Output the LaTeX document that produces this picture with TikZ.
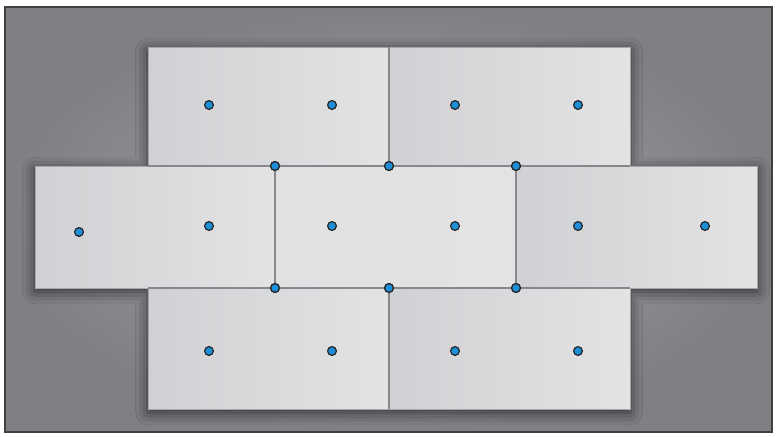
\documentclass[tikz,border=0pt]{standalone}
\usepackage{xcolor}
\usepackage{tikz}
\usetikzlibrary{shadows.blur}

\definecolor{bgdark}{HTML}{7E8084}
\definecolor{bglight}{HTML}{A2A4A8}
\definecolor{panelA}{HTML}{D0D1D4}
\definecolor{panelB}{HTML}{E3E3E4}
\definecolor{seam}{HTML}{86888B}
\definecolor{pinblue}{HTML}{1C8FD8}

\begin{document}
\begin{tikzpicture}[
    % Define common styles
        x=0.02cm, y=-0.02cm,
        panel/.style={left color=panelA, right color=panelB},
        midpanel/.style={left color=panelB!90!panelA, right color=panelB},
        seamline/.style={draw=seam, line width=0.9pt},
        pin/.style={circle, draw=black!85, fill=pinblue, line width=0.7pt, inner sep=0pt, minimum size=5pt}
    ]

        \useasboundingbox (0,0) rectangle (777,436);

        % Background frame
        \fill[white] (0,0) rectangle (777,436);
        \shade[inner color=bglight, outer color=bgdark] (5,7) rectangle (772,432);
        \draw[black!75, line width=0.6pt] (5,7) rectangle (772,432);

        % Shadow of the whole layout
        \fill[panelA, blur shadow={shadow xshift=0pt, shadow yshift=-2pt, shadow blur radius=7pt, shadow opacity=65}]
            (148,47) -- (630,47) -- (630,166) -- (757,166) -- (757,288) -- (630,288)
            -- (630,409) -- (148,409) -- (148,288) -- (35,288) -- (35,166) -- (148,166) -- cycle;

        % Top row
        \shade[panel] (148,47) rectangle (389,166);
        \shade[panel] (389,47) rectangle (630,166);

        % Middle row
        \shade[panel] (35,166) rectangle (275,288);
        \shade[midpanel] (275,166) rectangle (516,288);
        \shade[panel] (516,166) rectangle (757,288);

        % Bottom row
        \shade[panel] (148,288) rectangle (389,409);
        \shade[panel] (389,288) rectangle (630,409);

        % Outer edge
        \draw[panelA!80!black, line width=0.4pt]
            (148,47) -- (630,47) -- (630,166) -- (757,166) -- (757,288) -- (630,288)
            -- (630,409) -- (148,409) -- (148,288) -- (35,288) -- (35,166) -- (148,166) -- cycle;

        % Panel points
        \node[pin] (t1) at (209,105) {};
        \node[pin] (t2) at (332,105) {};
        \node[pin] (t3) at (455,105) {};
        \node[pin] (t4) at (578,105) {};

        \node[pin] (m1) at (79,232) {};
        \node[pin] (m2) at (209,226) {};
        \node[pin] (m3) at (332,226) {};
        \node[pin] (m4) at (455,226) {};
        \node[pin] (m5) at (578,226) {};
        \node[pin] (m6) at (705,226) {};

        \node[pin] (b1) at (209,351) {};
        \node[pin] (b2) at (332,351) {};
        \node[pin] (b3) at (455,351) {};
        \node[pin] (b4) at (578,351) {};

        % Junction points
        \node[pin] (j1) at (275,166) {};
        \node[pin] (j2) at (389,166) {};
        \node[pin] (j3) at (516,166) {};
        \node[pin] (j4) at (275,288) {};
        \node[pin] (j5) at (389,288) {};
        \node[pin] (j6) at (516,288) {};

        % Seams between panels
        \coordinate (tl) at (148,166);
        \coordinate (tr) at (630,166);
        \coordinate (bl) at (148,288);
        \coordinate (br) at (630,288);
        \coordinate (top) at (389,47);
        \coordinate (bot) at (389,409);
        \draw[seamline] (tl) -- (j1) -- (j2) -- (j3) -- (tr);
        \draw[seamline] (bl) -- (j4) -- (j5) -- (j6) -- (br);
        \draw[seamline] (top) -- (j2);
        \draw[seamline] (j5) -- (bot);
        \draw[seamline] (j1) -- (j4);
        \draw[seamline] (j3) -- (j6);

        % Redraw junction points on top of seams
        \foreach \j in {j1,j2,j3,j4,j5,j6}
            \node[pin] at (\j) {};

    \end{tikzpicture}
\end{document}
